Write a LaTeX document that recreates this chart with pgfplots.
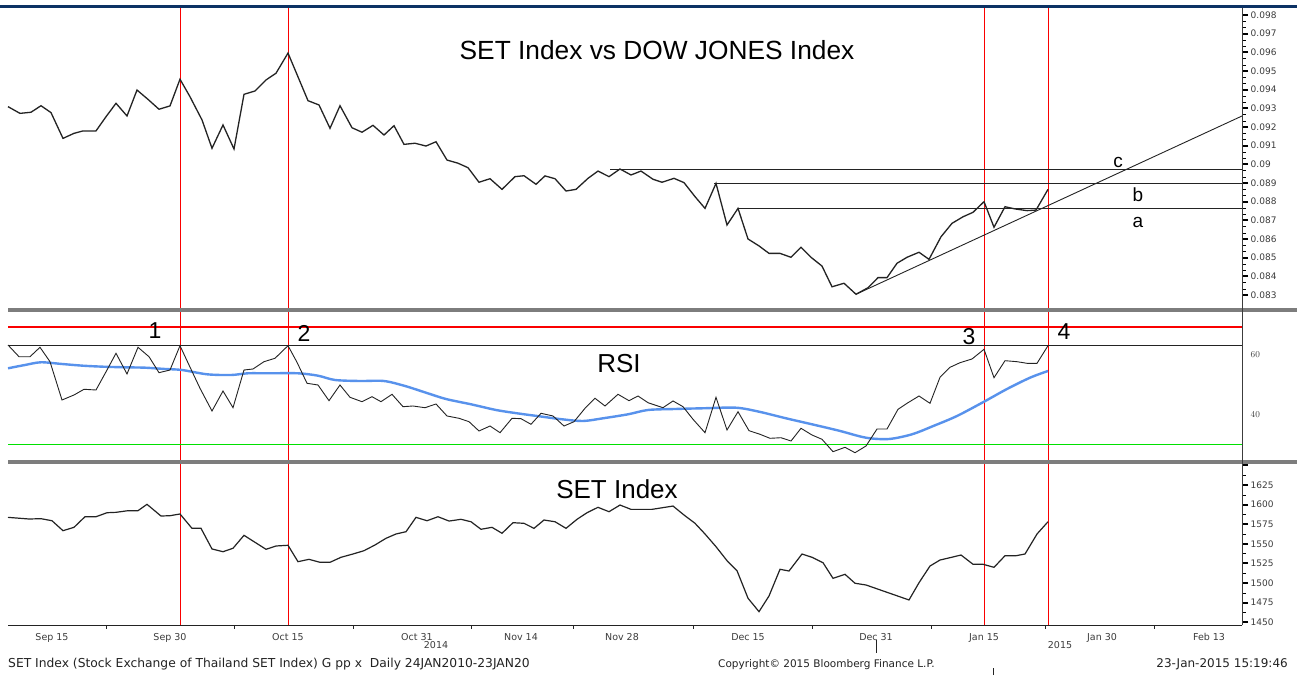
\documentclass[border=0pt]{standalone}
\usepackage{fontspec}
\setmainfont{Liberation Sans}
\newfontfamily\tickfont{DejaVu Sans}
\usepackage{pgfplots}
\usepackage{pgfplotstable}
\pgfplotsset{compat=1.18}
\usepgfplotslibrary{fillbetween}

\definecolor{bbnavy}{RGB}{12,50,100}
\definecolor{sepgray}{RGB}{125,125,125}
\definecolor{rsiblue}{RGB}{88,146,236}
\definecolor{rsigreen}{RGB}{0,225,0}
\definecolor{lowfill}{RGB}{185,232,165}
\definecolor{ink}{RGB}{35,35,35}
\definecolor{labgray}{RGB}{60,60,60}
\definecolor{bbred}{RGB}{250,0,0}

% RSI (black line), x = position on the shared day axis
\pgfplotstableread[row sep=\\]{
x y\\
8 63.33\\ 19 59.43\\ 30 59.43\\ 40 62.57\\ 50 57.77\\ 62 45.0\\ 74 46.67\\ 84 48.57\\ 96 48.33\\
107 55.0\\ 116 60.57\\ 127 53.67\\ 138 62.57\\ 149 59.43\\ 159 54.1\\ 170 55.0\\ 180 63.1\\
189 56.67\\ 200 48.9\\ 212 41.33\\ 223 48.0\\ 233 42.43\\ 244 55.0\\ 253 55.33\\ 264 57.77\\
275 58.9\\ 288 63.1\\ 297 57.57\\ 307 50.57\\ 318 50.0\\ 329 44.77\\ 340 50.0\\ 350 45.9\\
362 44.43\\ 372 46.1\\ 381 44.43\\ 392 46.9\\ 403 42.77\\ 413 43.0\\ 425 42.43\\ 436 43.67\\
447 39.67\\ 459 38.9\\ 469 37.77\\ 479 34.67\\ 490 36.33\\ 500 34.1\\ 512 38.9\\ 521 38.77\\
531 36.9\\ 541 40.57\\ 553 39.67\\ 564 36.33\\ 574 37.77\\ 585 42.23\\ 595 45.57\\ 605 43.0\\
618 46.9\\ 629 44.77\\ 638 46.33\\ 648 44.1\\ 663 42.43\\ 673 44.67\\ 683 42.77\\ 693 38.57\\
705 34.1\\ 716 45.9\\ 727 35.0\\ 738 41.1\\ 749 34.77\\ 760 33.57\\ 770 32.23\\ 781 32.43\\
791 31.33\\ 801 35.57\\ 812 33.33\\ 822 31.9\\ 833 27.77\\ 845 29.23\\ 855 27.43\\ 866 29.67\\
877 35.33\\ 887 35.33\\ 898 41.9\\ 908 44.1\\ 919 46.33\\ 930 43.9\\ 940 52.57\\ 950 55.9\\
960 57.43\\ 972 58.67\\ 984 61.9\\ 994 52.43\\ 1005 58.1\\ 1017 57.77\\ 1027 57.23\\ 1037 57.23\\
1048 63.1\\
}\rsitab

\pgfplotsset{
  panel/.style={
    anchor=south west, scale only axis, width=1234pt,
    xmin=8, xmax=1242, clip=false,
    axis line style={draw=none},
    xtick=\empty,
    ytick pos=right, yticklabel pos=right,
    tick align=outside, scaled y ticks=false,
    major tick length=6pt, minor tick length=3.5pt,
    major tick style={line width=2pt, black},
    minor tick style={line width=0.5pt, black},
    yticklabel style={font=\tickfont\fontsize{9}{10}\selectfont, text=labgray, inner sep=2.5pt},
  },
  redline/.style={draw=bbred, line width=1pt},
}
\newcommand\redlines[2]{%
  \addplot[redline] coordinates {(180,#1) (180,#2)};
  \addplot[redline] coordinates {(288,#1) (288,#2)};
  \addplot[redline] coordinates {(984,#1) (984,#2)};
  \addplot[redline] coordinates {(1048,#1) (1048,#2)};
}

\begin{document}
\begin{tikzpicture}
\fill[white] (0,0) rectangle (1297pt,675pt);

% ---- top panel: SET / DJIA ratio
\begin{axis}[panel, at={(8pt,367pt)}, height=300pt,
    ymin=0.082304, ymax=0.098375,
    ytick={0.083,0.084,0.085,0.086,0.087,0.088,0.089,0.090,0.091,0.092,0.093,0.094,0.095,0.096,0.097,0.098},
    yticklabels={0.083,0.084,0.085,0.086,0.087,0.088,0.089,0.09,0.091,0.092,0.093,0.094,0.095,0.096,0.097,0.098},
    minor y tick num=2]
\redlines{0.082304}{0.098375}
\addplot[ink, line width=0.9pt] coordinates {(610,0.0897) (1242,0.0897)};
\addplot[ink, line width=0.9pt] coordinates {(714,0.08898) (1242,0.08898)};
\addplot[ink, line width=0.9pt] coordinates {(738,0.08764) (1242,0.08764)};
\addplot[ink, line width=0.9pt] coordinates {(856,0.08304) (1242,0.09259)};
\addplot[ink, line width=1.3pt] coordinates {
(8,0.09309)(20,0.09273)(31,0.09279)(41,0.09314)(51,0.09277)(63,0.09139)(74,0.09166)(83,0.09179)
(96,0.09179)(106,0.09255)(116,0.09327)(127,0.09259)(137,0.09398)(148,0.09348)(159,0.09295)
(170,0.09313)(180,0.09456)(190,0.09362)(202,0.09238)(212,0.09086)(223,0.09211)(234,0.09082)
(244,0.09375)(255,0.09393)(266,0.09452)(276,0.09488)(288,0.09596)(308,0.09341)(319,0.09318)
(330,0.09193)(340,0.09314)(352,0.09196)(362,0.09172)(373,0.09209)(384,0.09157)(394,0.09207)
(404,0.09107)(415,0.09113)(426,0.09098)(436,0.09121)(447,0.09023)(458,0.09006)(468,0.08982)
(479,0.08904)(490,0.08923)(502,0.08866)(515,0.08934)(524,0.08939)(536,0.08893)(545,0.08938)
(555,0.08923)(566,0.08857)(576,0.08866)(588,0.08925)(598,0.08964)(609,0.08934)(620,0.08975)
(631,0.08943)(641,0.08964)(653,0.08920)(662,0.08904)(674,0.08925)(684,0.08902)(695,0.08827)
(705,0.08764)(716,0.08898)(727,0.08675)(738,0.08764)(748,0.08600)(759,0.08563)(769,0.08523)
(780,0.08523)(791,0.08502)(801,0.08556)(811,0.08502)(822,0.08455)(832,0.08344)(844,0.08363)
(856,0.08304)(868,0.08339)(878,0.08393)(887,0.08393)(897,0.08470)(907,0.08502)(919,0.08529)
(929,0.08491)(941,0.08612)(952,0.08684)(963,0.08719)(973,0.08743)(984,0.08800)(994,0.08663)
(1005,0.08773)(1015,0.08761)(1027,0.08752)(1036,0.08755)(1048,0.08866)};
\end{axis}

% ---- RSI panel
\begin{axis}[panel, at={(8pt,215pt)}, height=148pt,
    ymin=25, ymax=74.33,
    ytick={40,60}, minor ytick={30,50,70}]
\addplot[draw=none, name path=rsi] table {\rsitab};
\addplot[draw=none, name path=thirty] coordinates {(8,30) (1242,30)};
\addplot[lowfill] fill between[of=rsi and thirty, soft clip={domain=827:867}];
\redlines{25}{74.33}
\addplot[draw=ink, line width=0.9pt] coordinates {(8,63.3) (1242,63.3)};
\addplot[draw=rsigreen, line width=1pt] coordinates {(8,30) (1242,30)};
\addplot[draw=rsiblue, line width=2.4pt, smooth] coordinates {
(8,55.57)(25,56.67)(41,57.57)(62,57.0)(83,56.43)(103,56.1)(124,55.9)(145,55.77)(165,55.33)
(182,55.0)(207,53.57)(231,53.33)(248,53.9)(269,53.9)(298,53.9)(318,53.1)(335,51.67)(360,51.33)
(384,51.33)(405,49.67)(426,47.43)(446,45.33)(471,43.57)(496,41.67)(517,40.57)(537,39.67)
(562,38.57)(583,38.0)(603,38.9)(628,40.23)(648,41.67)(675,42.0)(702,42.23)(736,42.43)
(759,41.1)(786,38.9)(812,36.9)(839,34.77)(866,32.43)(889,32.0)(912,33.57)(934,36.43)
(957,39.67)(984,44.43)(1007,48.67)(1030,52.43)(1048,54.67)};
\addplot[draw=ink, line width=0.9pt] table {\rsitab};
\addplot[draw=bbred, line width=2pt] coordinates {(8,69.2) (1242,69.2)};
\end{axis}

% ---- SET Index panel
\begin{axis}[panel, at={(8pt,50pt)}, height=161pt,
    ymin=1446.6, ymax=1651.8,
    ytick={1450,1475,1500,1525,1550,1575,1600,1625,1650},
    yticklabels={1450,1475,1500,1525,1550,1575,1600,1625,{}},
    minor y tick num=1,
    xtick pos=bottom,
    xtick={52,170,288,417,521,622,748,876,984,1102,1209},
    xticklabels={Sep 15,Sep 30,Oct 15,Oct 31,Nov 14,Nov 28,Dec 15,Dec 31,Jan 15,Jan 30,Feb 13},
    major x tick style={draw=none},
    minor xtick={106,234,353,471,573,693,812,931,1045,1154},
    minor x tick style={line width=0.8pt, draw=ink},
    xticklabel style={font=\tickfont\fontsize{9.5}{10}\selectfont, text=labgray, inner sep=2pt}]
\redlines{1446.6}{1651.8}
\addplot[ink, line width=1.2pt] coordinates {
(8,1583.8)(29,1581.7)(41,1582.1)(52,1579.5)(63,1566.8)(74,1571.1)(85,1584.6)(96,1584.6)
(107,1589.7)(116,1590.2)(128,1592.3)(138,1592.3)(147,1600.4)(161,1585.5)(170,1585.9)
(180,1588.1)(192,1569.8)(201,1569.8)(212,1543.5)(223,1540.0)(233,1544.4)(244,1560.9)
(254,1552.8)(266,1543.1)(276,1547.3)(288,1548.2)(298,1527.3)(309,1530.3)(320,1526.5)
(330,1526.5)(341,1532.9)(353,1537.1)(364,1541.3)(375,1548.6)(386,1557.1)(396,1562.6)
(406,1565.5)(416,1583.8)(427,1579.5)(438,1584.6)(449,1579.1)(461,1581.3)(471,1578.2)
(481,1568.6)(492,1571.1)(502,1563.5)(513,1577.0)(524,1576.2)(534,1569.8)(544,1580.4)
(555,1578.2)(566,1569.8)(577,1581.3)(587,1589.7)(598,1596.6)(609,1591.0)(620,1599.5)
(631,1594.0)(652,1594.0)(673,1598.2)(684,1586.8)(695,1576.2)(705,1562.6)(716,1546.4)
(727,1528.6)(737,1515.8)(748,1480.7)(759,1463.6)(769,1483.6)(780,1517.6)(789,1515.4)
(802,1537.1)(812,1532.9)(823,1526.0)(833,1506.1)(845,1511.2)(855,1499.8)(866,1497.6)
(909,1478.5)(919,1500.5)(930,1521.8)(940,1529.4)(950,1532.4)(961,1535.8)(973,1524.0)
(983,1524.0)(994,1520.1)(1005,1534.9)(1016,1534.9)(1025,1537.1)(1037,1562.6)(1048,1578.2)};
\end{axis}

% ---- frame, separators and texts
\fill[bbnavy] (0,667pt) rectangle (1297pt,670pt);
\fill[sepgray] (8pt,363pt) rectangle (1297pt,367pt);
\fill[sepgray] (8pt,211pt) rectangle (1297pt,215pt);
\draw[labgray, line width=0.8pt] (1242pt,50pt) -- (1242pt,667pt);
\draw[ink, line width=1pt] (8pt,50pt) -- (1242pt,50pt);
\draw[ink, line width=0.6pt] (876pt,35pt) -- (876pt,22pt);

\node[anchor=base, font=\fontsize{26.3}{31}\selectfont] at (657pt,615pt) {SET Index vs DOW JONES Index};
\node[anchor=base, font=\fontsize{26}{31}\selectfont] at (619pt,302pt) {RSI};
\node[anchor=base, font=\fontsize{26}{31}\selectfont] at (617pt,177pt) {SET Index};
\node[anchor=base, font=\fontsize{23}{28}\selectfont] at (155pt,336pt) {1};
\node[anchor=base, font=\fontsize{23}{28}\selectfont] at (304pt,333pt) {2};
\node[anchor=base, font=\fontsize{23}{28}\selectfont] at (969pt,330pt) {3};
\node[anchor=base, font=\fontsize{23}{28}\selectfont] at (1064pt,335pt) {4};
\node[anchor=base, font=\fontsize{19}{23}\selectfont] at (1118pt,507pt) {c};
\node[anchor=base, font=\fontsize{19}{23}\selectfont] at (1138pt,473pt) {b};
\node[anchor=base, font=\fontsize{19}{23}\selectfont] at (1138pt,447pt) {a};

\node[anchor=base, font=\tickfont\fontsize{9.5}{10}\selectfont, text=labgray] at (436pt,27pt) {2014};
\node[anchor=base, font=\tickfont\fontsize{9.5}{10}\selectfont, text=labgray] at (1060pt,27pt) {2015};
\node[anchor=base west, inner sep=0pt, font=\tickfont\fontsize{12.3}{14}\selectfont, text=ink] at (8pt,8pt)
  {SET Index (Stock Exchange of Thailand SET Index) G pp x\ \ Daily 24JAN2010-23JAN20};
\node[anchor=base west, inner sep=0pt, font=\tickfont\fontsize{10.5}{12}\selectfont, text=ink] at (718pt,8pt)
  {Copyright© 2015 Bloomberg Finance L.P.};
\node[anchor=base east, inner sep=0pt, font=\tickfont\fontsize{12}{14}\selectfont, text=ink] at (1288pt,8pt)
  {23-Jan-2015 15:19:46};
\draw[ink, line width=0.6pt] (993pt,0pt) -- (993pt,7pt);
\pgfresetboundingbox
\path[use as bounding box] (0,0) rectangle (1297pt,675pt);
\end{tikzpicture}
\end{document}
